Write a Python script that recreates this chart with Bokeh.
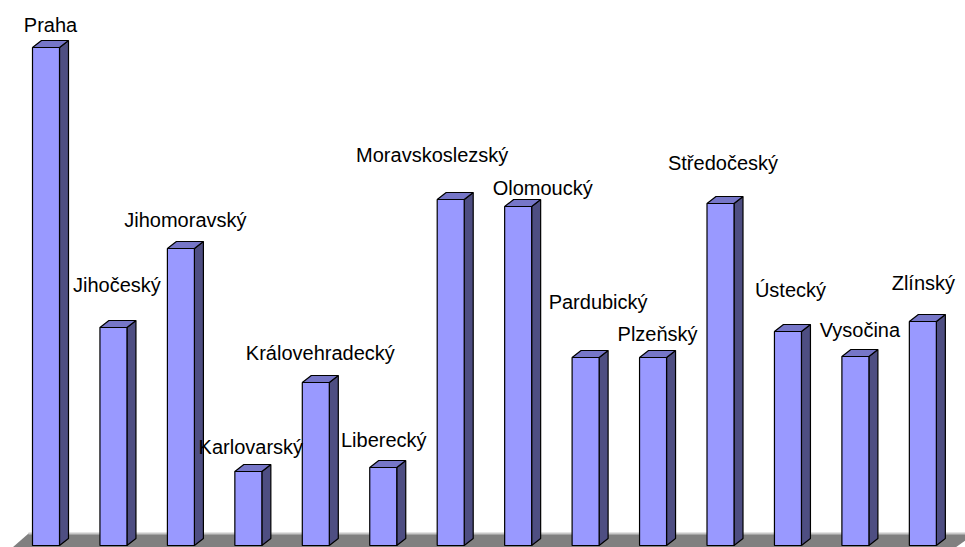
from bokeh.plotting import figure
from bokeh.models import ColumnDataSource, Range1d
from bokeh.embed import file_html
from bokeh.resources import INLINE
from bokeh.core.properties import value

# ---- data (arbitrary units) ----
regions = ["Praha", "Jihočeský", "Jihomoravský", "Karlovarský", "Královehradecký",
           "Liberecký", "Moravskoslezský", "Olomoucký", "Pardubický", "Plzeňský",
           "Středočeský", "Ústecký", "Vysočina", "Zlínský"]
values = [498, 218, 297, 74, 163, 78, 346, 339, 188, 188, 342, 214, 189, 224]

# ---- label placement tweaks (pixels) ----
label_dx = [0, -1, 0, -2, 0, -4, -23, 20, 8, 0, -2, -2, 0, -4]
label_gap = [15, 35, 21, 17, 22, 20, 37, 11, 48, 16, 33, 34, 19, 31]
gap_shift = 8

# ---- layout / style ----
W, H = 965, 547
x0, step, bw = 32, 67.45, 27
ddx, ddy = 9, 7
FRONT, TOP, SIDE = "#9999FF", "#7676C8", "#4E4E82"

p = figure(width=W, height=H, output_backend="svg", toolbar_location=None,
           x_range=Range1d(0, W), y_range=Range1d(-2, H - 2),
           min_border=0, outline_line_color=None)
p.axis.visible = False
p.grid.visible = False
p.background_fill_color = "white"
p.border_fill_color = "white"

# floor
p.patch([12, 28, 975, 955], [-2, 12, 12, -2], fill_color="#808080", line_color=None)
p.line([28, 975], [12, 12], line_color="#C8C8C8", line_width=2)

fx, fy, tx, ty, sx, sy = [], [], [], [], [], []
for i, v in enumerate(values):
    l = x0 + i * step
    r = l + bw
    fx.append([l, r, r, l]); fy.append([0, 0, v, v])
    tx.append([l, r, r + ddx, l + ddx]); ty.append([v, v, v + ddy, v + ddy])
    sx.append([r, r + ddx, r + ddx, r]); sy.append([0, ddy, v + ddy, v])

p.patches(sx, sy, fill_color=SIDE, line_color="black", line_width=1.2)
p.patches(tx, ty, fill_color=TOP, line_color="black", line_width=1.2)
p.patches(fx, fy, fill_color=FRONT, line_color="black", line_width=1.2)

lab = ColumnDataSource(dict(
    x=[x0 + i * step + (bw + ddx) / 2 + label_dx[i] for i in range(len(regions))],
    y=[values[i] + label_gap[i] + gap_shift for i in range(len(regions))],
    t=regions))
p.text(x="x", y="y", text="t", source=lab, text_align="center",
       text_baseline="alphabetic", text_font=value("Liberation Sans"),
       text_font_size="20px", text_color="black")

open("out.html", "w").write(file_html(p, INLINE))
